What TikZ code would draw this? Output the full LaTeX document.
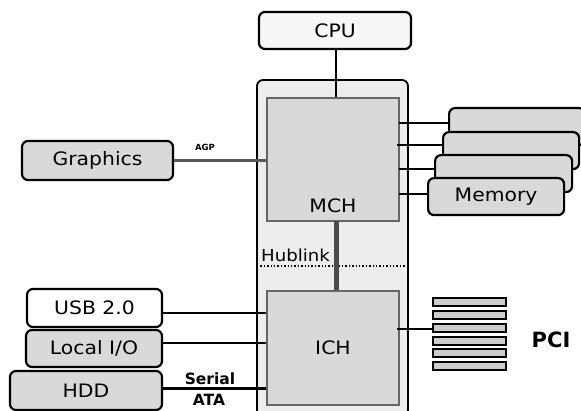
\documentclass[tikz,border=0pt]{standalone}
\usepackage{fontspec}
\setmainfont{DejaVu Sans}[FakeStretch=1.1]
\newfontfamily\boldf{DejaVu Sans Bold}
\begin{document}
\begin{tikzpicture}[x=1pt,y=-1pt,
  blk/.style={draw=black,line width=2.2pt,rounded corners=6pt,fill=#1,inner sep=0pt},
  blk/.default={black!15},
  chip/.style={draw=black!60,line width=1.4pt,fill=black!15,inner sep=0pt},
  lbl/.style={font=\fontsize{18.5}{20}\selectfont,inner sep=0pt},
  wire/.style={line width=2.5pt,draw=black},
  slot/.style={draw=black,line width=2pt,fill=black!20,inner sep=0pt}]
\useasboundingbox (0,0) rectangle (581,411);
% chipset frame
\draw[draw=black,line width=1.8pt,rounded corners=6pt,fill=black!7] (257,80) rectangle (408,416);
\node[chip,minimum width=132pt,minimum height=123pt] (mch) at (333,159.5) {};
\node[chip,minimum width=132pt,minimum height=114pt] (ich) at (333,348) {};
\node[lbl] at (333,206) {MCH};
\node[lbl] at (333,348) {ICH};
% Hublink
\draw[dotted,line width=1.4pt] (257,266) -- (408,266);
\node[font=\fontsize{16.5}{18}\selectfont,inner sep=0pt,anchor=base west] at (261,262) {Hublink};
\coordinate (hl) at (336,221);
\draw[line width=5pt,draw=black!70] (hl) -- (hl |- ich.north);
% CPU
\node[blk=black!3,minimum width=152pt,minimum height=37pt] (cpu) at (335,30.5) {};
\node[lbl] at (cpu.center) {CPU};
\coordinate (cs) at (336,49);
\draw[wire] (cs) -- (cs |- mch.north);
% Graphics
\node[blk,minimum width=151pt,minimum height=39pt] (gfx) at (97.5,160.5) {};
\node[lbl] at (gfx.center) {Graphics};
\draw[line width=3pt,draw=black!65] (gfx.east) -- (gfx.east -| mch.west);
\node[font=\boldf\fontsize{8.5}{9}\selectfont,inner sep=0pt] at (205,147) {AGP};
% Memory stack
\node[blk,minimum width=136pt,minimum height=37pt,anchor=north west] (m1) at (448,107) {};
\node[blk,minimum width=136pt,minimum height=37pt,anchor=north west] (m2) at (442,131) {};
\node[blk,minimum width=137pt,minimum height=37pt,anchor=north west] (m3) at (434,154) {};
\node[blk,minimum width=136pt,minimum height=37pt,anchor=north west] (m4) at (427,177) {};
\node[lbl] at (m4.center) {Memory};
\coordinate (c1) at (399,123);
\coordinate (c2) at (397,145);
\coordinate (c3) at (399,169);
\coordinate (c4) at (399,194);
\draw[wire] (c1) -- (c1 -| m1.west);
\draw[wire] (c2) -- (c2 -| m2.west);
\draw[wire] (c3) -- (c3 -| m3.west);
\draw[wire] (c4) -- (c4 -| m4.west);
% ICH side
\node[blk=white,minimum width=135pt,minimum height=38pt] (usb) at (94.5,308) {};
\node[lbl] at (usb.center) {USB 2.0};
\node[blk,minimum width=136pt,minimum height=37pt] (lio) at (94,348.5) {};
\node[lbl] at (lio.center) {Local I/O};
\node[blk,minimum width=152pt,minimum height=39pt] (hdd) at (86,390.5) {};
\node[lbl] at (hdd.center) {HDD};
\coordinate (u1) at (162,313);
\coordinate (u2) at (162,343);
\coordinate (u3) at (162,389);
\draw[line width=1.8pt] (u1) -- (u1 -| ich.west);
\draw[line width=2.8pt] (u2) -- (u2 -| ich.west);
\draw[line width=3pt] (u3) -- (u3 -| ich.west);
\node[font=\boldf\fontsize{15.5}{16}\selectfont,inner sep=0pt] at (210,379) {Serial};
\node[font=\boldf\fontsize{15.5}{16}\selectfont,inner sep=0pt] at (209,400) {ATA};
% PCI
\foreach \i/\yy in {1/302.5,2/315,3/328,4/341,5/353.5,6/366}{
  \node[slot,minimum width=73pt,minimum height=8pt] (p\i) at (469.5,\yy) {};
}
\coordinate (pc) at (397,329);
\draw[wire] (pc) -- (pc -| p3.west);
\node[font=\boldf\fontsize{21}{22}\selectfont,inner sep=0pt] at (551,340) {PCI};
\end{tikzpicture}
\end{document}
